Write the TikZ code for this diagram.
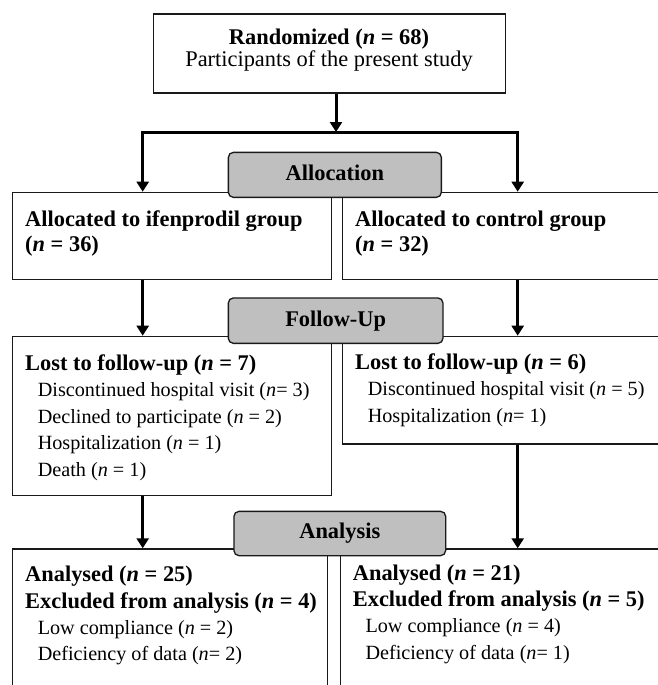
\documentclass[tikz,border=0pt]{standalone}
\usepackage{fontspec}
\setmainfont{Liberation Serif}
\usetikzlibrary{arrows.meta,positioning,calc}
\newcommand{\bigtxt}{\fontsize{22.4}{25}\selectfont}
\newcommand{\subtxt}{\fontsize{20.2}{26.4}\selectfont}
\tikzset{
  >={Triangle[length=10pt,width=12pt]},
  infobox/.style={draw=black!90,line width=1.3pt,rectangle,inner sep=0pt,
    anchor=north west},
  stagebox/.style={draw=black!90,line width=1.3pt,fill=black!25,
    rounded corners=5pt,inner sep=0pt,anchor=north west,
    font=\bigtxt\bfseries,text height=15.3pt,text depth=4.5pt},
  flow/.style={->,line width=3pt},
  boxtxt/.style={anchor=base west,align=left,inner sep=0pt},
}
\begin{document}
\begin{tikzpicture}[x=1pt,y=-1pt]
  \useasboundingbox (0,0) rectangle (658,685);
  \clip (0,0) rectangle (658,685);
  % boxes
  \node[infobox,minimum width=352pt,minimum height=79pt] (rand) at (153,13.3) {};
  \node[infobox,minimum width=319.3pt,minimum height=87.3pt] (alloc1) at (11.7,191.7) {};
  \node[infobox,minimum width=330pt,minimum height=87.3pt] (alloc2) at (341.7,191.7) {};
  \node[infobox,minimum width=319.3pt,minimum height=159.3pt] (fu1) at (11.7,335.7) {};
  \node[infobox,minimum width=330pt,minimum height=107.6pt] (fu2) at (341.7,335.7) {};
  \node[infobox,minimum width=315pt,minimum height=160pt] (an1) at (11.7,548.3) {};
  \node[infobox,minimum width=330pt,minimum height=160pt] (an2) at (340,548.3) {};
  % stage labels
  \node[stagebox,minimum width=213pt,minimum height=45pt] (allocation) at (227.7,151.7) {Allocation};
  \node[stagebox,minimum width=214.6pt,minimum height=45.4pt] (followup) at (227.7,297.3) {Follow-Up};
  \node[stagebox,minimum width=211.7pt,minimum height=44.3pt] (analysis) at (233.3,510.7) {Analysis};
  % texts (anchored at the baseline of the last line)
  \node[anchor=base,align=center,inner sep=0pt,font=\fontsize{22.4}{22.2}\selectfont] (t-rand) at (329,66.7)
    {\bfseries Randomized (\textit{n} = 68)\\ Participants of the present study};
  \node[boxtxt,font=\bigtxt\bfseries] (t-alloc1) at ([shift={(13.3,60)}]alloc1.north west)
    {Allocated to ifenprodil group\\ (\textit{n} = 36)};
  \node[boxtxt,font=\bigtxt\bfseries] (t-alloc2) at ([shift={(13.3,60)}]alloc2.north west)
    {Allocated to control group\\ (\textit{n} = 32)};
  \node[boxtxt,font=\subtxt] (t-fu1) at ([shift={(13.3,140.4)}]fu1.north west)
    {{\bigtxt\bfseries Lost to follow-up (\textit{n} = 7)}\\
     \hspace*{12.6pt}Discontinued hospital visit (\textit{n}= 3)\\
     \hspace*{12.6pt}Declined to participate (\textit{n} = 2)\\
     \hspace*{12.6pt}Hospitalization (\textit{n} = 1)\\
     \hspace*{12.6pt}Death (\textit{n} = 1)};
  \node[boxtxt,font=\subtxt] (t-fu2) at ([shift={(13.3,86.3)}]fu2.north west)
    {{\bigtxt\bfseries Lost to follow-up (\textit{n} = 6)}\\
     \hspace*{12.6pt}Discontinued hospital visit (\textit{n} = 5)\\
     \hspace*{12.6pt}Hospitalization (\textit{n}= 1)};
  \node[boxtxt,font=\subtxt] (t-an1) at ([shift={(13.3,112.6)}]an1.north west)
    {{\bigtxt\bfseries Analysed (\textit{n} = 25)}\\
     {\bigtxt\bfseries Excluded from analysis (\textit{n} = 4)}\\
     \hspace*{12.6pt}Low compliance (\textit{n} = 2)\\
     \hspace*{12.6pt}Deficiency of data (\textit{n}= 2)};
  \node[boxtxt,font=\subtxt] (t-an2) at ([shift={(12.7,110.9)}]an2.north west)
    {{\bigtxt\bfseries Analysed (\textit{n} = 21)}\\
     {\bigtxt\bfseries Excluded from analysis (\textit{n} = 5)}\\
     \hspace*{12.6pt}Low compliance (\textit{n} = 4)\\
     \hspace*{12.6pt}Deficiency of data (\textit{n}= 1)};
  % arrows
  \coordinate (mid) at (336,132);
  \coordinate (lt) at (142.7,132);
  \coordinate (rt) at (517.7,132);
  \draw[flow] (mid |- rand.south) -- (mid);
  \draw[flow,<->] (lt |- alloc1.north) -- (lt) -- (rt) -- (rt |- alloc2.north);
  \draw[flow] (lt |- alloc1.south) -- (lt |- fu1.north);
  \draw[flow] (rt |- alloc2.south) -- (rt |- fu2.north);
  \draw[flow] (lt |- fu1.south) -- (lt |- an1.north);
  \draw[flow] (rt |- fu2.south) -- (rt |- an2.north);
\end{tikzpicture}
\end{document}
